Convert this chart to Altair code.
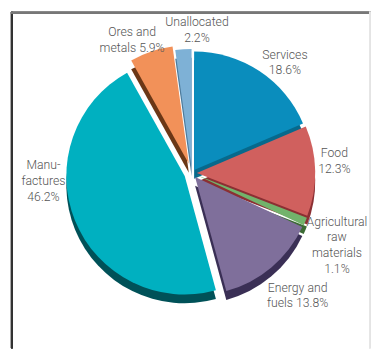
import altair as alt
import pandas as pd

# ---- data ----
categories = ["Services", "Food", "Agricultural raw materials", "Energy and fuels",
              "Manufactures", "Ores and metals", "Unallocated"]
shares = [18.6, 12.3, 1.1, 13.8, 46.2, 5.9, 2.2]
label_text = ["Services|18.6%", "Food|12.3%", "Agricultural|raw|materials|1.1%",
              "Energy and|fuels 13.8%", "Manu-|factures|46.2%", "Ores and|metals 5.9%",
              "Unallocated|2.2%"]

# ---- styles / layout ----
top_colors = ["#0a8dbd", "#d0605e", "#72b36b", "#7f6f9b", "#00b0c0", "#f29159", "#7eb1d6"]
side_colors = ["#07698c", "#8b2f33", "#3c6b34", "#3a2f55", "#005158", "#6b3716", "#4d7b9c"]
explode = [4, 5, 5, 5, 8, 10, 6]
label_r = [147, 146, 166, 166, 152, 148, 145]
label_deg = [40.3, 85.6, 116.8, 139.4, 266.6, 335.6, 2.0]

CX, CY, R, DEPTH, LH = 188, 165, 121, 9, 16
W, H = 371, 344

df = pd.DataFrame({
    "i": list(range(len(categories))),
    "category": categories,
    "share": shares,
    "label": label_text,
    "top": top_colors,
    "side": side_colors,
    "explode": explode,
    "lr": label_r,
    "ldeg": label_deg,
})

base = alt.Chart(df).transform_joinaggregate(
    total="sum(share)"
).transform_window(
    cum="sum(share)", sort=[alt.SortField("i")], frame=[None, 0]
).transform_calculate(
    start="(datum.cum - datum.share) / datum.total * 2 * PI",
    end="datum.cum / datum.total * 2 * PI",
    nlines="length(split(datum.label, '|'))",
).transform_calculate(
    mid="(datum.start + datum.end) / 2"
).transform_calculate(
    cx=f"{CX} + datum.explode * sin(datum.mid)",
    cy=f"{CY} - datum.explode * cos(datum.mid)",
    sy=f"{CY} - datum.explode * cos(datum.mid) + {DEPTH}",
    lx=f"{CX} + datum.lr * sin(datum.ldeg * PI / 180)",
    ly=f"{CY - 1} - datum.lr * cos(datum.ldeg * PI / 180) - (datum.nlines - 1) * {LH} / 2",
)

side = base.mark_arc(radius=R).encode(
    theta=alt.Theta("start:Q", scale=None),
    theta2="end:Q",
    x=alt.X("cx:Q", scale=None),
    y=alt.Y("sy:Q", scale=None),
    color=alt.Color("side:N", scale=None),
)

top = base.mark_arc(radius=R).encode(
    theta=alt.Theta("start:Q", scale=None),
    theta2="end:Q",
    x=alt.X("cx:Q", scale=None),
    y=alt.Y("cy:Q", scale=None),
    color=alt.Color("top:N", scale=None),
    tooltip=["category:N", "share:Q"],
)

labels = base.mark_text(
    font="Roboto", fontWeight=300, fontSize=12.5, color="#555555",
    lineBreak="|", lineHeight=LH, align="center", baseline="middle",
).encode(
    x=alt.X("lx:Q", scale=None),
    y=alt.Y("ly:Q", scale=None),
    text="label:N",
)

frame_left = alt.Chart(df).mark_rule(color="#333333", strokeWidth=2).encode(
    x=alt.value(4), y=alt.value(0), y2=alt.value(H))
frame_top = alt.Chart(df).mark_rule(color="#777777", strokeWidth=2).encode(
    x=alt.value(3), x2=alt.value(W), y=alt.value(1))
frame_right = alt.Chart(df).mark_rule(color="#e4e4e4", strokeWidth=1).encode(
    x=alt.value(370), y=alt.value(0), y2=alt.value(H))

chart = alt.layer(side, top, labels, frame_left, frame_top, frame_right).properties(
    width=W, height=H, autosize=alt.AutoSizeParams(type="none"),
    padding={"left": 0, "top": 0, "right": 0, "bottom": 0},
).configure_view(stroke=None)

chart.save("out.html", embed_options={"renderer": "svg", "actions": False})
